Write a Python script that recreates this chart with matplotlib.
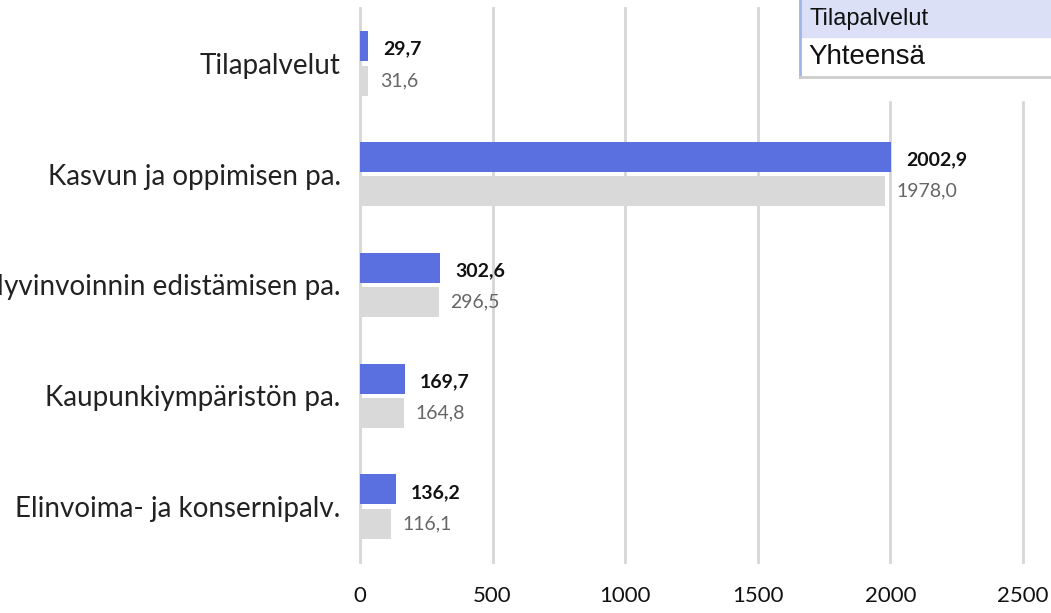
import matplotlib
matplotlib.use("Agg")
import matplotlib.pyplot as plt
import numpy as np
from matplotlib.patches import Rectangle
from matplotlib.lines import Line2D

categories = [
    "Tilapalvelut",
    "Kasvun ja oppimisen pa.",
    "Hyvinvoinnin edistämisen pa.",
    "Kaupunkiympäristön pa.",
    "Elinvoima- ja konsernipalv.",
]
values_blue = [29.7, 2002.9, 302.6, 169.7, 136.2]
values_gray = [31.6, 1978.0, 296.5, 164.8, 116.1]
x_ticks = [0, 500, 1000, 1500, 2000, 2500]

BLUE = "#5a6fe0"
GRAY = "#d9d9d9"
W, H = 1051, 613

plt.rcParams["font.family"] = ["Lato", "DejaVu Sans"]

fig = plt.figure(figsize=(W / 100, H / 100), dpi=100)
ax = fig.add_axes([360 / W, (H - 562) / H, 663 / W, 554 / H])

y = np.arange(len(categories))
bar_h = 0.27
off = 0.155
ax.barh(y - off, values_blue, height=bar_h, color=BLUE, zorder=3)
ax.barh(y + off, values_gray, height=bar_h, color=GRAY, zorder=3)

for yi, v in zip(y, values_blue):
    ax.annotate(f"{v:.1f}".replace(".", ","), (v, yi - off), xytext=(15, -3),
                textcoords="offset pixels", va="center", ha="left",
                fontsize=14, fontweight="bold", color="#111111")
for yi, v in zip(y, values_gray):
    ax.annotate(f"{v:.1f}".replace(".", ","), (v, yi + off), xytext=(12, 0),
                textcoords="offset pixels", va="center", ha="left",
                fontsize=14, color="#666666")

ax.set_xlim(0, 2500)
ax.set_ylim(len(categories) - 0.5, -0.5)
ax.set_xticks(x_ticks)
ax.set_xticklabels([str(t) for t in x_ticks], fontsize=16, color="#111111")
ax.set_yticks(y)
ax.set_yticklabels(categories, fontsize=20, color="#222222")
ax.tick_params(axis="both", length=0)
ax.tick_params(axis="y", pad=14)
ax.tick_params(axis="x", pad=17)
for s in ax.spines.values():
    s.set_visible(False)
ax.grid(axis="x", color="#d6d6d6", linewidth=2, zorder=0)
ax.set_axisbelow(True)
for gl in ax.get_xgridlines():
    gl.set_clip_on(False)

# pasted table snippet in the top right corner
def px(x0, y0, w, h):
    return (x0 / W, 1 - (y0 + h) / H, w / W, h / H)

x0, y0, w, h = px(800, 0, 251, 100)
fig.add_artist(Rectangle((x0, y0), w, h, transform=fig.transFigure, color="white", zorder=5))
x0, y0, w, h = px(800, 0, 251, 37)
fig.add_artist(Rectangle((x0, y0), w, h, transform=fig.transFigure, color="#dce0f6", zorder=6))
fig.add_artist(Line2D([800 / W, 800 / W], [1, 1 - 77 / H], transform=fig.transFigure,
                      color="#9fb4e8", linewidth=2, zorder=7))
fig.add_artist(Line2D([800 / W, 1], [1 - 77 / H, 1 - 77 / H], transform=fig.transFigure,
                      color="#cccccc", linewidth=2, zorder=7))
fig.text(810 / W, 1 - 19 / H, "Tilapalvelut", fontsize=17, family="Liberation Sans",
         va="center", ha="left", color="#111111", zorder=8)
fig.text(808 / W, 1 - 57 / H, "Yhteensä", fontsize=20, family="Liberation Sans",
         va="center", ha="left", color="#111111", zorder=8)

fig.savefig("out.png", dpi=100)
